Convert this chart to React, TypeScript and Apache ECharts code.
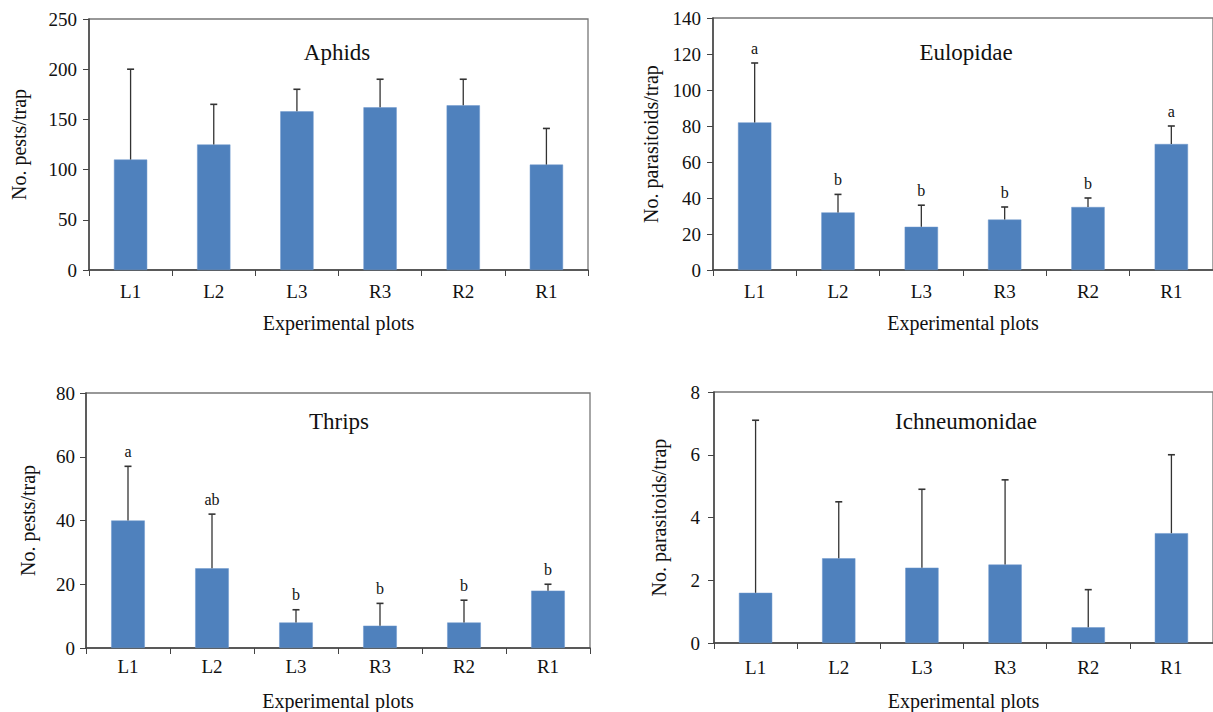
import React, { useEffect, useRef } from "react";
import * as echarts from "echarts";

const categories = ["L1", "L2", "L3", "R3", "R2", "R1"];

const aphidsMean = [110, 125, 158, 162, 164, 105];
const aphidsUpper = [200, 165, 180, 190, 190, 141];
const aphidsLetters = ["", "", "", "", "", ""];

const eulopidaeMean = [82, 32, 24, 28, 35, 70];
const eulopidaeUpper = [115, 42, 36, 35, 40, 80];
const eulopidaeLetters = ["a", "b", "b", "b", "b", "a"];

const thripsMean = [40, 25, 8, 7, 8, 18];
const thripsUpper = [57, 42, 12, 14, 15, 20];
const thripsLetters = ["a", "ab", "b", "b", "b", "b"];

const ichMean = [1.6, 2.7, 2.4, 2.5, 0.5, 3.5];
const ichUpper = [7.1, 4.5, 4.9, 5.2, 1.7, 6.0];
const ichLetters = ["", "", "", "", "", ""];

const FONT = "Liberation Serif";
const BAR = "#4F81BD";
const AXIS = "#444";

type Panel = {
  title: string;
  yName: string;
  mean: number[];
  upper: number[];
  letters: string[];
  max: number;
  interval: number;
  grid: { left: number; top: number; width: number; height: number };
  yNameGap: number;
  xNameGap: number;
  xLabelMargin: number;
  yLabelMargin: number;
  titleX: number;
  titleY: number;
};

const panels: Panel[] = [
  {
    title: "Aphids", yName: "No. pests/trap", mean: aphidsMean, upper: aphidsUpper, letters: aphidsLetters,
    max: 250, interval: 50, grid: { left: 89, top: 19, width: 499, height: 251 },
    yNameGap: 60, xNameGap: 43, xLabelMargin: 12, yLabelMargin: 12, titleX: 337, titleY: 52,
  },
  {
    title: "Eulopidae", yName: "No. parasitoids/trap", mean: eulopidaeMean, upper: eulopidaeUpper, letters: eulopidaeLetters,
    max: 140, interval: 20, grid: { left: 713, top: 18, width: 500, height: 252 },
    yNameGap: 52, xNameGap: 43, xLabelMargin: 12, yLabelMargin: 12, titleX: 966, titleY: 52,
  },
  {
    title: "Thrips", yName: "No. pests/trap", mean: thripsMean, upper: thripsUpper, letters: thripsLetters,
    max: 80, interval: 20, grid: { left: 86, top: 393, width: 504, height: 256 },
    yNameGap: 48, xNameGap: 43, xLabelMargin: 9, yLabelMargin: 11, titleX: 339, titleY: 421,
  },
  {
    title: "Ichneumonidae", yName: "No. parasitoids/trap", mean: ichMean, upper: ichUpper, letters: ichLetters,
    max: 8, interval: 2, grid: { left: 714, top: 392, width: 504, height: 251 },
    yNameGap: 45, xNameGap: 48, xLabelMargin: 15, yLabelMargin: 14, titleX: 966, titleY: 421,
  },
];

export default function App() {
  const ref = useRef<HTMLDivElement>(null);
  useEffect(() => {
    document.body.style.margin = "0";
    const chart = echarts.init(ref.current!, undefined, { renderer: "svg" });
    const grids: any[] = [];
    const xAxes: any[] = [];
    const yAxes: any[] = [];
    const series: any[] = [];
    const graphics: any[] = [];
    panels.forEach((p, i) => {
      grids.push({ ...p.grid, show: true, borderColor: "#777", borderWidth: 1.3, containLabel: false });
      xAxes.push({
        type: "category", gridIndex: i, data: categories,
        name: "Experimental plots", nameLocation: "middle", nameGap: p.xNameGap,
        nameTextStyle: { fontFamily: FONT, fontSize: 20, color: "#111" },
        axisLine: { lineStyle: { color: AXIS, width: 1.5 } },
        axisTick: { show: true, length: 6, lineStyle: { color: AXIS } },
        axisLabel: { fontFamily: FONT, fontSize: 19, color: "#111", margin: p.xLabelMargin },
      });
      yAxes.push({
        type: "value", gridIndex: i, min: 0, max: p.max, interval: p.interval,
        name: p.yName, nameLocation: "middle", nameRotate: 90, nameGap: p.yNameGap,
        nameTextStyle: { fontFamily: FONT, fontSize: 20, color: "#111" },
        splitLine: { show: false },
        axisLine: { show: true, lineStyle: { color: AXIS, width: 1.5 } },
        axisTick: { show: true, length: 6, lineStyle: { color: AXIS } },
        axisLabel: { fontFamily: FONT, fontSize: 19, color: "#111", margin: p.yLabelMargin },
      });
      series.push({
        type: "bar", xAxisIndex: i, yAxisIndex: i, data: p.mean, barWidth: "40%",
        itemStyle: { color: BAR, borderColor: "#6d97cc", borderWidth: 0.5 },
      });
      series.push({
        type: "custom", xAxisIndex: i, yAxisIndex: i,
        data: p.mean.map((m, k) => [k, m, p.upper[k]]),
        encode: { x: 0, y: 2 },
        z: 3,
        renderItem: (params: any, api: any) => {
          const idx = api.value(0);
          const top = api.coord([idx, api.value(2)]);
          const base = api.coord([idx, api.value(1)]);
          const letter = p.letters[params.dataIndex];
          const children: any[] = [
            { type: "line", shape: { x1: top[0], y1: base[1], x2: top[0], y2: top[1] }, style: { stroke: "#333", lineWidth: 1.3 } },
            { type: "line", shape: { x1: top[0] - 3.5, y1: top[1], x2: top[0] + 3.5, y2: top[1] }, style: { stroke: "#333", lineWidth: 1.6 } },
          ];
          if (letter) {
            children.push({
              type: "text", x: top[0], y: top[1] - 7,
              style: { text: letter, textAlign: "center", textVerticalAlign: "bottom", font: `16px ${FONT}`, fill: "#111" },
            });
          }
          return { type: "group", children };
        },
      });
      graphics.push({
        type: "text", x: p.titleX, y: p.titleY,
        style: { text: p.title, textAlign: "center", textVerticalAlign: "middle", font: `23px ${FONT}`, fill: "#111" },
      });
    });
    chart.setOption({
      animation: false,
      backgroundColor: "#fff",
      grid: grids,
      xAxis: xAxes,
      yAxis: yAxes,
      series,
      graphic: graphics,
    });
    return () => chart.dispose();
  }, []);
  return <div ref={ref} style={{ width: 1213, height: 712 }} />;
}
